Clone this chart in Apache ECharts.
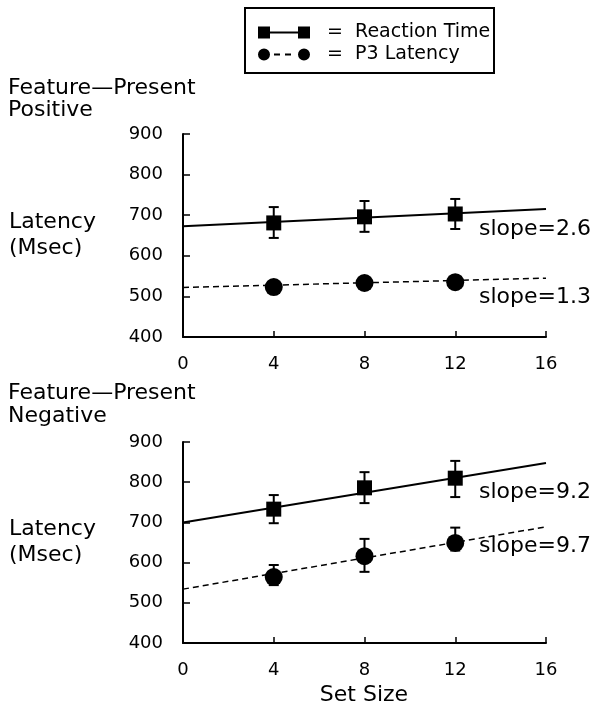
<!DOCTYPE html>
<html>
<head>
<meta charset="utf-8">
<script src="https://cdn.jsdelivr.net/npm/echarts@6/dist/echarts.min.js"></script>
<style>
  html, body { margin: 0; padding: 0; background: #fff; }
  #chart { width: 596px; height: 705px; }
</style>
</head>
<body>
<div id="chart"></div>
<script>
// set sizes shown on the x axis
const setSizes = [4, 8, 12]
const fitX = [0, 16]

// Feature-Present Positive
const posRT = [681, 696, 703]
const posRTLow = [644, 659, 666]
const posRTHigh = [720, 735, 740]
const posRTFit = [673, 715]
const posP3 = [523, 533, 535]
const posP3Fit = [522, 545]

// Feature-Present Negative
const negRT = [733, 786, 810]
const negRTLow = [698, 748, 763]
const negRTHigh = [768, 825, 853]
const negRTFit = [700, 848]
const negP3 = [564, 616, 649]
const negP3Low = [544, 577, 630]
const negP3High = [594, 659, 687]
const negP3Fit = [534, 689]

const slopeLabels = ['slope=2.6', 'slope=1.3', 'slope=9.2', 'slope=9.7']

const FONT = '"DejaVu Sans", sans-serif'
const pairs = (xs, ys) => xs.map((x, i) => [x, ys[i]])
const bars = (xs, lo, hi) => xs.map((x, i) => [x, lo[i], hi[i]])

function errorBar(params, api) {
  const x = api.value(0)
  const top = api.coord([x, api.value(2)])
  const bot = api.coord([x, api.value(1)])
  const w = 5
  const style = { stroke: '#000', lineWidth: 2 }
  return {
    type: 'group',
    children: [
      { type: 'line', shape: { x1: top[0], y1: top[1], x2: bot[0], y2: bot[1] }, style },
      { type: 'line', shape: { x1: top[0] - w, y1: top[1], x2: top[0] + w, y2: top[1] }, style },
      { type: 'line', shape: { x1: bot[0] - w, y1: bot[1], x2: bot[0] + w, y2: bot[1] }, style },
    ],
  }
}

function xAxisFor(gridIndex) {
  return {
    gridIndex,
    type: 'value',
    min: 0,
    max: 16,
    interval: 4,
    axisLine: { lineStyle: { color: '#000', width: 2 } },
    axisTick: { inside: true, length: 6, lineStyle: { color: '#000', width: 1.5 } },
    axisLabel: { color: '#000', fontSize: 18, fontFamily: FONT, margin: 18 },
    splitLine: { show: false },
  }
}

function yAxisFor(gridIndex) {
  return {
    gridIndex,
    type: 'value',
    min: 400,
    max: 900,
    interval: 100,
    axisLine: { show: true, lineStyle: { color: '#000', width: 2 } },
    axisTick: { show: true, inside: true, length: 7, lineStyle: { color: '#000', width: 1.5 } },
    axisLabel: { color: '#000', fontSize: 18, fontFamily: FONT, margin: 20 },
    splitLine: { show: false },
  }
}

function seriesFor(idx, rt, rtFit, p3, p3Fit, rtBars, p3Bars) {
  const list = [
    {
      name: 'Reaction Time', type: 'line', xAxisIndex: idx, yAxisIndex: idx,
      data: pairs(fitX, rtFit), symbol: 'none', silent: true,
      lineStyle: { color: '#000', width: 2 },
    },
    {
      name: 'P3 Latency', type: 'line', xAxisIndex: idx, yAxisIndex: idx,
      data: pairs(fitX, p3Fit), symbol: 'none', silent: true,
      lineStyle: { color: '#000', width: 1.5, type: [6, 4] },
    },
    {
      name: 'Reaction Time', type: 'custom', xAxisIndex: idx, yAxisIndex: idx,
      data: rtBars, renderItem: errorBar, z: 3,
    },
    {
      name: 'Reaction Time', type: 'scatter', xAxisIndex: idx, yAxisIndex: idx,
      data: pairs(setSizes, rt), symbol: 'rect', symbolSize: 15,
      itemStyle: { color: '#000', opacity: 1 }, z: 4,
    },
    {
      name: 'P3 Latency', type: 'scatter', xAxisIndex: idx, yAxisIndex: idx,
      data: pairs(setSizes, p3), symbol: 'circle', symbolSize: 18,
      itemStyle: { color: '#000', opacity: 1 }, z: 4,
    },
  ]
  if (p3Bars) {
    list.push({
      name: 'P3 Latency', type: 'custom', xAxisIndex: idx, yAxisIndex: idx,
      data: p3Bars, renderItem: errorBar, z: 3,
    })
  }
  return list
}

function label(text, x, y, size, align) {
  return {
    type: 'text', x, y,
    style: { text, fill: '#000', font: size + 'px ' + FONT, align: align || 'left', verticalAlign: 'middle' },
  }
}

const chart = echarts.init(document.getElementById('chart'))

chart.setOption({
  animation: false,
  backgroundColor: '#fff',
  grid: [
    { left: 183, top: 134, width: 363, height: 203 },
    { left: 183, top: 442, width: 363, height: 201 },
  ],
  xAxis: [xAxisFor(0), xAxisFor(1)],
  yAxis: [yAxisFor(0), yAxisFor(1)],
  legend: {
    orient: 'vertical',
    left: 253,
    top: 18,
    itemWidth: 52,
    itemHeight: 12,
    itemGap: 3,
    selectedMode: false,
    formatter: (name) => '  =  ' + name,
    textStyle: { color: '#000', fontSize: 19, fontFamily: FONT },
    data: [
      { name: 'Reaction Time', icon: 'path://M0,0h12v12h-12zM12,5h28v2h-28zM40,0h12v12h-12z', itemStyle: { color: '#000' } },
      { name: 'P3 Latency', icon: 'path://M0,6a6,6 0 1,0 12,0a6,6 0 1,0 -12,0zM16,5h6v2h-6zM27,5h6v2h-6zM40,6a6,6 0 1,0 12,0a6,6 0 1,0 -12,0z', itemStyle: { color: '#000' } },
    ],
  },
  graphic: [
    { type: 'rect', shape: { x: 245, y: 8, width: 249, height: 65 }, style: { fill: 'none', stroke: '#000', lineWidth: 2 } },
    label('Feature\u2014Present', 8, 88, 22),
    label('Positive', 8, 110, 22),
    label('Latency', 9, 222, 22),
    label('(Msec)', 9, 248, 22),
    label('Feature\u2014Present', 8, 393, 22),
    label('Negative', 8, 416, 22),
    label('Latency', 9, 529, 22),
    label('(Msec)', 9, 555, 22),
    label(slopeLabels[0], 479, 229, 22),
    label(slopeLabels[1], 479, 297, 22),
    label(slopeLabels[2], 479, 492, 22),
    label(slopeLabels[3], 479, 546, 22),
    label('Set Size', 364, 695, 22, 'center'),
  ],
  series: [
    ...seriesFor(0, posRT, posRTFit, posP3, posP3Fit, bars(setSizes, posRTLow, posRTHigh), null),
    ...seriesFor(1, negRT, negRTFit, negP3, negP3Fit, bars(setSizes, negRTLow, negRTHigh), bars(setSizes, negP3Low, negP3High)),
  ],
})
</script>
</body>
</html>
